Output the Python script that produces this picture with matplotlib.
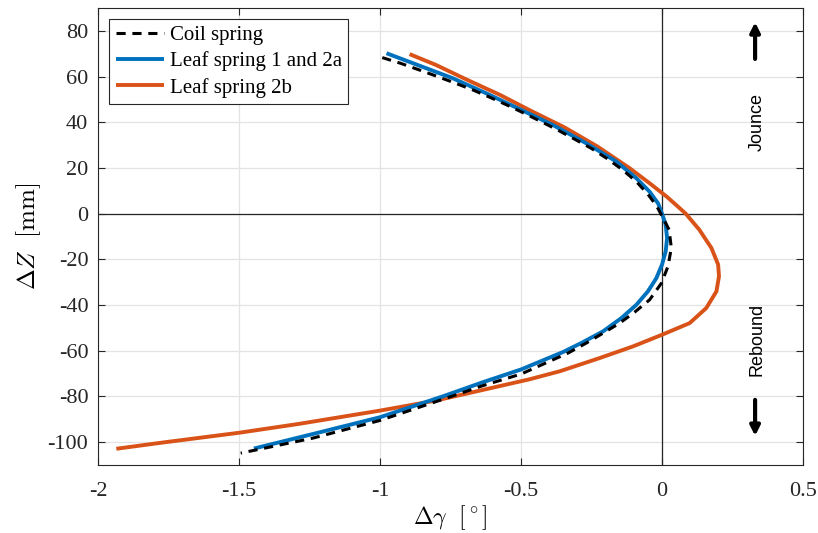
#!/usr/bin/env python3
"""
Camber change vs wheel travel for the three suspension variants
"""

import matplotlib
matplotlib.use('Agg')
import matplotlib.pyplot as plt

# Coil spring (dashed black): wheel travel [mm] and camber change [deg]
coil_z = [68.3, 65.8, 62.9, 60.0, 57.1, 54.2, 50.9, 47.6, 43.9, 40.3, 36.6, 32.6, 28.6, 24.2,
          19.1, 14.0, 8.5, 3.1, -0.6, -7.0, -15.0, -23.1, -30.4, -37.7, -43.1, -47.9, -52.3,
          -56.6, -61.0, -70.2, -75.3, -80.8, -90.5, -98.3, -104.8]
coil_gamma = [-0.992, -0.927, -0.861, -0.796, -0.733, -0.672, -0.610, -0.551, -0.488, -0.429,
              -0.370, -0.310, -0.251, -0.196, -0.139, -0.091, -0.050, -0.018, -0.002, 0.025,
              0.033, 0.021, -0.002, -0.044, -0.097, -0.150, -0.209, -0.268, -0.333, -0.5,
              -0.636, -0.766, -1.0, -1.240, -1.494]

# Leaf spring 1 and 2a (blue)
leaf1_z = [70.2, 64.8, 59.3, 52.7, 45.8, 38.8, 30.8, 22.8, 15.5, 9.6, 4.5, 0.0, -4.8, -10.7,
           -16.5, -22.3, -28.2, -34.0, -39.9, -45.7, -51.5, -56.6, -60.5, -68.2, -73.8, -80.0,
           -89.1, -96.5, -102.8]
leaf1_gamma = [-0.977, -0.861, -0.743, -0.624, -0.506, -0.387, -0.269, -0.162, -0.091, -0.044,
               -0.014, 0.0, 0.013, 0.018, 0.013, 0.0, -0.020, -0.050, -0.091, -0.144, -0.209,
               -0.286, -0.350, -0.5, -0.636, -0.778, -1.0, -1.240, -1.447]

# Leaf spring 2b (orange)
leaf2b_z = [69.8, 65.1, 58.5, 52.0, 45.0, 37.7, 29.3, 19.9, 13.3, 7.4, 3.9, 0.0, -7.0, -15.0,
            -22.3, -27.4, -34.0, -41.3, -47.9, -53.0, -58.1, -63.2, -69.0, -72.5, -77.5, -81.8,
            -86.2, -92.0, -95.9, -100.0, -102.9]
leaf2b_gamma = [-0.895, -0.802, -0.690, -0.575, -0.465, -0.345, -0.228, -0.115, -0.044, 0.017,
                0.049, 0.084, 0.132, 0.175, 0.199, 0.202, 0.193, 0.157, 0.098, 0.0, -0.103,
                -0.221, -0.363, -0.470, -0.648, -0.802, -1.0, -1.287, -1.5, -1.76, -1.935]

x_ticks = [-2, -1.5, -1, -0.5, 0, 0.5]
y_ticks = [-100, -80, -60, -40, -20, 0, 20, 40, 60, 80]

plt.rcParams['font.family'] = ['Liberation Serif', 'DejaVu Serif']
plt.rcParams['mathtext.fontset'] = 'cm'
plt.rcParams['axes.unicode_minus'] = False


def create_plot():
    """Draw the three camber curves with jounce / rebound markers"""
    fig = plt.figure(figsize=(8.18, 5.33), dpi=100)
    ax = fig.add_axes([0.1198, 0.1276, 0.8619, 0.8574])

    ax.grid(True, color='#e3e3e3', linewidth=0.9)
    ax.set_axisbelow(True)
    ax.axhline(0, color='#262626', linewidth=0.9, zorder=1)
    ax.axvline(0, color='#262626', linewidth=0.9, zorder=1)

    ax.plot(coil_gamma, coil_z, '--', color='black', linewidth=2.2, dashes=(3, 2.2),
            label='Coil spring', zorder=4)
    ax.plot(leaf1_gamma, leaf1_z, '-', color='#0072BD', linewidth=2.8,
            label='Leaf spring 1 and 2a', zorder=3, solid_capstyle='butt')
    ax.plot(leaf2b_gamma, leaf2b_z, '-', color='#D95319', linewidth=2.8,
            label='Leaf spring 2b', zorder=2, solid_capstyle='butt')

    # Jounce / rebound annotations
    ax.annotate('', xy=(0.33, 85), xytext=(0.33, 66.5),
                arrowprops=dict(arrowstyle='-|>', color='black', lw=3.0, mutation_scale=14))
    ax.annotate('', xy=(0.33, -98.5), xytext=(0.33, -80.3),
                arrowprops=dict(arrowstyle='-|>', color='black', lw=3.0, mutation_scale=14))
    ax.text(0.337, 40, 'Jounce', rotation=90, ha='center', va='center',
            fontsize=13, family=['Liberation Sans', 'DejaVu Sans'])
    ax.text(0.337, -55, 'Rebound', rotation=90, ha='center', va='center',
            fontsize=13, family=['Liberation Sans', 'DejaVu Sans'])

    ax.set_xlim(-2, 0.5)
    ax.set_ylim(-110, 90)
    ax.set_xticks(x_ticks)
    ax.set_xticklabels([f'{t:g}' for t in x_ticks])
    ax.set_yticks(y_ticks)
    ax.tick_params(direction='in', length=5, width=0.8, labelsize=16,
                   top=True, right=True, colors='#262626', labelcolor='#262626')
    ax.tick_params(axis='x', pad=12)
    ax.tick_params(axis='y', pad=7)
    for spine in ax.spines.values():
        spine.set_color('#262626')
        spine.set_linewidth(0.8)

    ax.set_xlabel(r'$\Delta\gamma\ \ [^\circ]$', fontsize=17, labelpad=2)
    ax.set_ylabel(r'$\Delta Z\ \ [\mathrm{mm}]$', fontsize=18, labelpad=3)

    leg = ax.legend(loc='upper left', fontsize=15, frameon=True, fancybox=False,
                    borderpad=0.3, labelspacing=0.3, handlelength=2.3, handletextpad=0.3,
                    borderaxespad=0.55)
    leg.get_frame().set_edgecolor('#262626')
    leg.get_frame().set_linewidth(0.8)
    leg.get_frame().set_alpha(1)

    fig.savefig('out.png', dpi=100, facecolor='white')


def main():
    create_plot()


if __name__ == "__main__":
    main()
